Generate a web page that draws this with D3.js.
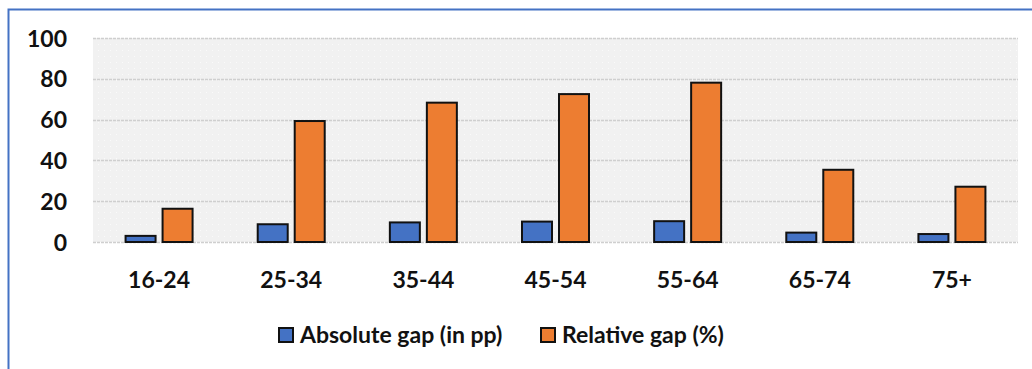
<!DOCTYPE html>
<html><head><meta charset="utf-8">
<script src="https://cdn.jsdelivr.net/npm/d3@7"></script>
<style>body{margin:0;background:#fff}svg{display:block}text{font-family:Lato,"Open Sans",sans-serif;font-weight:bold;fill:#111}</style>
</head><body><svg id="c" width="1032" height="369"></svg>
<script>
const categories = ["16-24","25-34","35-44","45-54","55-64","65-74","75+"];
const absoluteGap = [3.0, 8.7, 9.6, 10.0, 10.2, 4.6, 3.9];
const relativeGap = [16.3, 59.3, 68.3, 72.5, 78.1, 35.4, 27.1];
const seriesNames = ["Absolute gap (in pp)", "Relative gap (%)"];
const seriesColors = ["#4472c4", "#ed7d31"];
const yTicks = [0,20,40,60,80,100];

const FS = 23;
const svg = d3.select("#c");
const m = {l:93, r:1018, t:38, b:242};
const x = d3.scaleBand().domain(categories).range([m.l, m.r]).paddingInner(0).paddingOuter(0);
const y = d3.scaleLinear().domain([0,100]).range([m.b, m.t]);

// border
svg.append("path").attr("d","M8.5,369 V9.5 H1032").attr("fill","none").attr("stroke","#4472c4").attr("stroke-width",2);

// background with dotted pattern
const defs = svg.append("defs");
const pat = defs.append("pattern").attr("id","dots").attr("width",6).attr("height",6).attr("patternUnits","userSpaceOnUse");
pat.append("rect").attr("width",6).attr("height",6).attr("fill","#f1f1f1");
pat.append("rect").attr("x",2).attr("y",2).attr("width",1).attr("height",1).attr("fill","#fafafa");
svg.append("rect").attr("x",m.l).attr("y",m.t).attr("width",m.r-m.l).attr("height",m.b-m.t).attr("fill","url(#dots)");

// gridlines
svg.append("g").selectAll("line").data(yTicks).join("line")
  .attr("x1",m.l).attr("x2",m.r).attr("y1",d=>Math.round(y(d))+0.5).attr("y2",d=>Math.round(y(d))+0.5)
  .attr("stroke","#cfcfcf").attr("stroke-width",1.5).attr("stroke-dasharray","3,1");

// y axis labels
const yAxis = d3.axisLeft(y).tickValues(yTicks).tickSize(0).tickPadding(0);
const gy = svg.append("g").attr("transform",`translate(67,0)`).call(yAxis);
gy.select(".domain").remove();
gy.selectAll("text").attr("font-size",FS).attr("font-family","Lato, sans-serif").attr("font-weight","bold").attr("fill","#111").attr("dy","0.35em");

// x axis labels
const xAxis = d3.axisBottom(x).tickSize(0).tickPadding(0);
const gx = svg.append("g").attr("transform",`translate(0,${m.b})`).call(xAxis);
gx.select(".domain").remove();
gx.selectAll("text").attr("font-size",FS).attr("font-family","Lato, sans-serif").attr("font-weight","bold").attr("fill","#111").attr("y",38).attr("dy","0.35em");

// bars
const bw = 30, gap = 7;
const data = categories.map((c,i)=>({c, v:[absoluteGap[i], relativeGap[i]]}));
const inner = d3.scaleBand().domain([0,1]).range([-(bw+gap/2), bw+gap/2]).paddingInner(gap/(bw+gap)).paddingOuter(0);
const g = svg.append("g");
data.forEach(d=>{
  const cx = x(d.c) + x.bandwidth()/2;
  [0,1].forEach(s=>{
    g.append("rect")
      .attr("x", cx + inner(s)).attr("width", inner.bandwidth())
      .attr("y", y(d.v[s])).attr("height", y(0)-y(d.v[s]))
      .attr("fill", seriesColors[s]).attr("stroke","#111").attr("stroke-width",2);
  });
});

// legend
const legX = [278, 540];
const lg = svg.append("g");
seriesNames.forEach((n,i)=>{
  lg.append("rect").attr("x",legX[i]+1).attr("y",328).attr("width",14).attr("height",14)
    .attr("fill",seriesColors[i]).attr("stroke","#111").attr("stroke-width",2);
  lg.append("text").attr("x",legX[i]+22).attr("y",335).attr("dy","0.35em").attr("font-size",FS).text(n);
});
</script></body></html>
